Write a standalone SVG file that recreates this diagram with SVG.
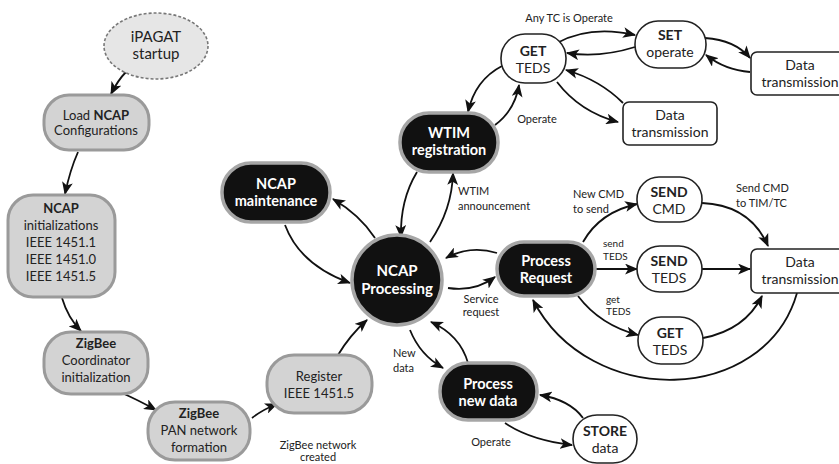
<svg xmlns="http://www.w3.org/2000/svg" width="839" height="464" viewBox="0 0 839 464">
<style>
text{font-family:Lato,"Open Sans","Liberation Sans",sans-serif;text-anchor:middle;fill:#222}
.g rect{fill:#d3d3d3;stroke:#9a9a9a;stroke-width:3}
.g text{font-size:13px}
.d rect,.d circle{fill:#111;stroke:#a6a6a6;stroke-width:3.5}
.d text{font-size:14.5px;font-weight:bold;fill:#fff}
.w rect{fill:#fff;stroke:#222;stroke-width:1.6}
.w text{font-size:14px}
.b{font-weight:bold}
.lbl{font-size:11px}
.sm{font-size:10px}
.st{text-anchor:start}
#conn path{fill:none;stroke:#111;stroke-width:1.8;marker-end:url(#ah)}
</style>
<defs>
<marker id="ah" viewBox="0 0 12 10" refX="11" refY="5" markerWidth="13" markerHeight="11" markerUnits="userSpaceOnUse" orient="auto">
<path d="M0,0 L12,5 L0,10 L3,5 z" fill="#111"/>
</marker>
</defs>
<rect width="839" height="464" fill="#fff"/>

<g id="conn">
<path d="M126,72 Q118,80 111,94"/>
<path d="M78,152 Q70,170 65,194"/>
<path d="M62,298 Q68,318 81,331"/>
<path d="M122,393 Q138,400 156,410"/>
<path d="M252,418 Q262,410 277,404"/>
<path d="M338,355 Q350,335 367,320"/>
<path d="M375,238 Q360,215 333,199"/>
<path d="M285,225 Q300,265 350,283"/>
<path d="M417,172 Q400,200 401,237"/>
<path d="M430,242 Q452,210 453,173"/>
<path d="M497,253 Q470,245 446,258"/>
<path d="M448,288 Q475,292 495,277"/>
<path d="M410,330 Q420,355 443,368"/>
<path d="M468,363 Q460,335 431,322"/>
<path d="M505,423 Q530,440 572,445"/>
<path d="M583,418 Q570,400 540,395"/>
<path d="M583,242 Q600,212 637,204"/>
<path d="M595,269 L637,269"/>
<path d="M578,296 Q600,325 638,335"/>
<path d="M702,203 Q750,205 768,246"/>
<path d="M702,269 L750,269"/>
<path d="M703,338 Q745,330 762,296"/>
<path d="M797,293 C765,405 590,410 533,300"/>
<path d="M495,125 Q515,110 519,85"/>
<path d="M502,66 Q475,80 468,112"/>
<path d="M557,43 Q590,25 635,35"/>
<path d="M635,47 Q600,58 567,53"/>
<path d="M705,38 Q735,40 750,58"/>
<path d="M750,72 Q725,70 706,55"/>
<path d="M557,82 Q580,112 618,122"/>
<path d="M623,103 Q600,80 566,70"/>
</g>

<g id="labels">
<text class="lbl" x="569" y="22">Any TC is Operate</text>
<text class="lbl" x="537" y="123">Operate</text>
<text class="lbl st" x="458" y="195">WTIM</text>
<text class="lbl st" x="458" y="210">announcement</text>
<text class="lbl st" x="573" y="198">New CMD</text>
<text class="lbl st" x="573" y="213">to send</text>
<text class="lbl st" x="736" y="192">Send CMD</text>
<text class="lbl st" x="736" y="207">to TIM/TC</text>
<text class="sm st" x="603" y="247">send</text>
<text class="sm st" x="603" y="260">TEDS</text>
<text class="sm st" x="606" y="303">get</text>
<text class="sm st" x="606" y="315">TEDS</text>
<text class="lbl" x="481" y="303">Service</text>
<text class="lbl" x="481" y="316">request</text>
<text class="lbl st" x="393" y="357">New</text>
<text class="lbl st" x="393" y="372">data</text>
<text class="lbl" x="491" y="446">Operate</text>
<text class="lbl" x="318" y="449">ZigBee network</text>
<text class="lbl" x="318" y="461">created</text>
</g>

<g id="ipagat">
<ellipse cx="156" cy="46" rx="52" ry="33" fill="#e6e6e6" stroke="#777" stroke-width="1.6" stroke-dasharray="3,2"/>
<text x="156" y="42" style="font-size:15px">iPAGAT</text>
<text x="156" y="59" style="font-size:15px">startup</text>
</g>

<g id="load" class="g">
<rect x="44" y="95" width="105" height="55" rx="25"/>
<text x="96" y="120">Load <tspan class="b">NCAP</tspan></text>
<text x="96" y="135">Configurations</text>
</g>

<g id="init" class="g">
<rect x="8" y="195" width="107" height="102" rx="25"/>
<text x="61" y="213" class="b">NCAP</text>
<text x="61" y="230">initializations</text>
<text x="61" y="247">IEEE 1451.1</text>
<text x="61" y="264">IEEE 1451.0</text>
<text x="61" y="281">IEEE 1451.5</text>
</g>

<g id="zcoord" class="g">
<rect x="44" y="332" width="104" height="62" rx="27"/>
<text x="96" y="348" class="b">ZigBee</text>
<text x="96" y="365">Coordinator</text>
<text x="96" y="382">initialization</text>
</g>

<g id="pan" class="g">
<rect x="148" y="402" width="102" height="58" rx="27"/>
<text x="199" y="418" class="b">ZigBee</text>
<text x="199" y="435">PAN network</text>
<text x="199" y="452">formation</text>
</g>

<g id="register" class="g">
<rect x="267" y="355" width="105" height="58" rx="27"/>
<text x="319" y="381">Register</text>
<text x="319" y="398">IEEE 1451.5</text>
</g>

<g id="processing" class="d">
<circle cx="397" cy="280" r="45"/>
<text x="397" y="276" style="font-size:15px">NCAP</text>
<text x="397" y="294" style="font-size:15px">Processing</text>
</g>

<g id="maintenance" class="d">
<rect x="222" y="163" width="108" height="59" rx="29"/>
<text x="276" y="189">NCAP</text>
<text x="276" y="206">maintenance</text>
</g>

<g id="wtim" class="d">
<rect x="400" y="113" width="98" height="59" rx="29"/>
<text x="449" y="138">WTIM</text>
<text x="449" y="155">registration</text>
</g>

<g id="preq" class="d">
<rect x="497" y="242" width="98" height="54" rx="27"/>
<text x="546" y="266">Process</text>
<text x="546" y="283">Request</text>
</g>

<g id="pnew" class="d">
<rect x="440" y="363" width="97" height="57" rx="28"/>
<text x="488" y="389">Process</text>
<text x="488" y="406">new data</text>
</g>

<g id="gettop" class="w">
<rect x="501" y="34" width="65" height="49" rx="24"/>
<text x="533" y="56" class="b">GET</text>
<text x="533" y="73">TEDS</text>
</g>

<g id="set" class="w">
<rect x="635" y="21" width="71" height="47" rx="23"/>
<text x="670" y="40" class="b">SET</text>
<text x="670" y="57">operate</text>
</g>

<g id="dt1" class="w">
<rect x="751" y="52" width="100" height="43" rx="6"/>
<text x="800" y="70">Data</text>
<text x="800" y="87">transmission</text>
</g>

<g id="dt2" class="w">
<rect x="623" y="102" width="94" height="43" rx="6"/>
<text x="670" y="120">Data</text>
<text x="670" y="137">transmission</text>
</g>

<g id="sendcmd" class="w">
<rect x="637" y="177" width="65" height="45" rx="22"/>
<text x="669" y="197" class="b">SEND</text>
<text x="669" y="214">CMD</text>
</g>

<g id="sendteds" class="w">
<rect x="637" y="246" width="65" height="46" rx="23"/>
<text x="669" y="266" class="b">SEND</text>
<text x="669" y="283">TEDS</text>
</g>

<g id="dt3" class="w">
<rect x="751" y="249" width="100" height="44" rx="6"/>
<text x="800" y="267">Data</text>
<text x="800" y="284">transmission</text>
</g>

<g id="getlow" class="w">
<rect x="638" y="317" width="65" height="47" rx="23"/>
<text x="670" y="338" class="b">GET</text>
<text x="670" y="355">TEDS</text>
</g>

<g id="store" class="w">
<rect x="573" y="415" width="64" height="48" rx="24"/>
<text x="605" y="436" class="b">STORE</text>
<text x="605" y="453">data</text>
</g>
</svg>
